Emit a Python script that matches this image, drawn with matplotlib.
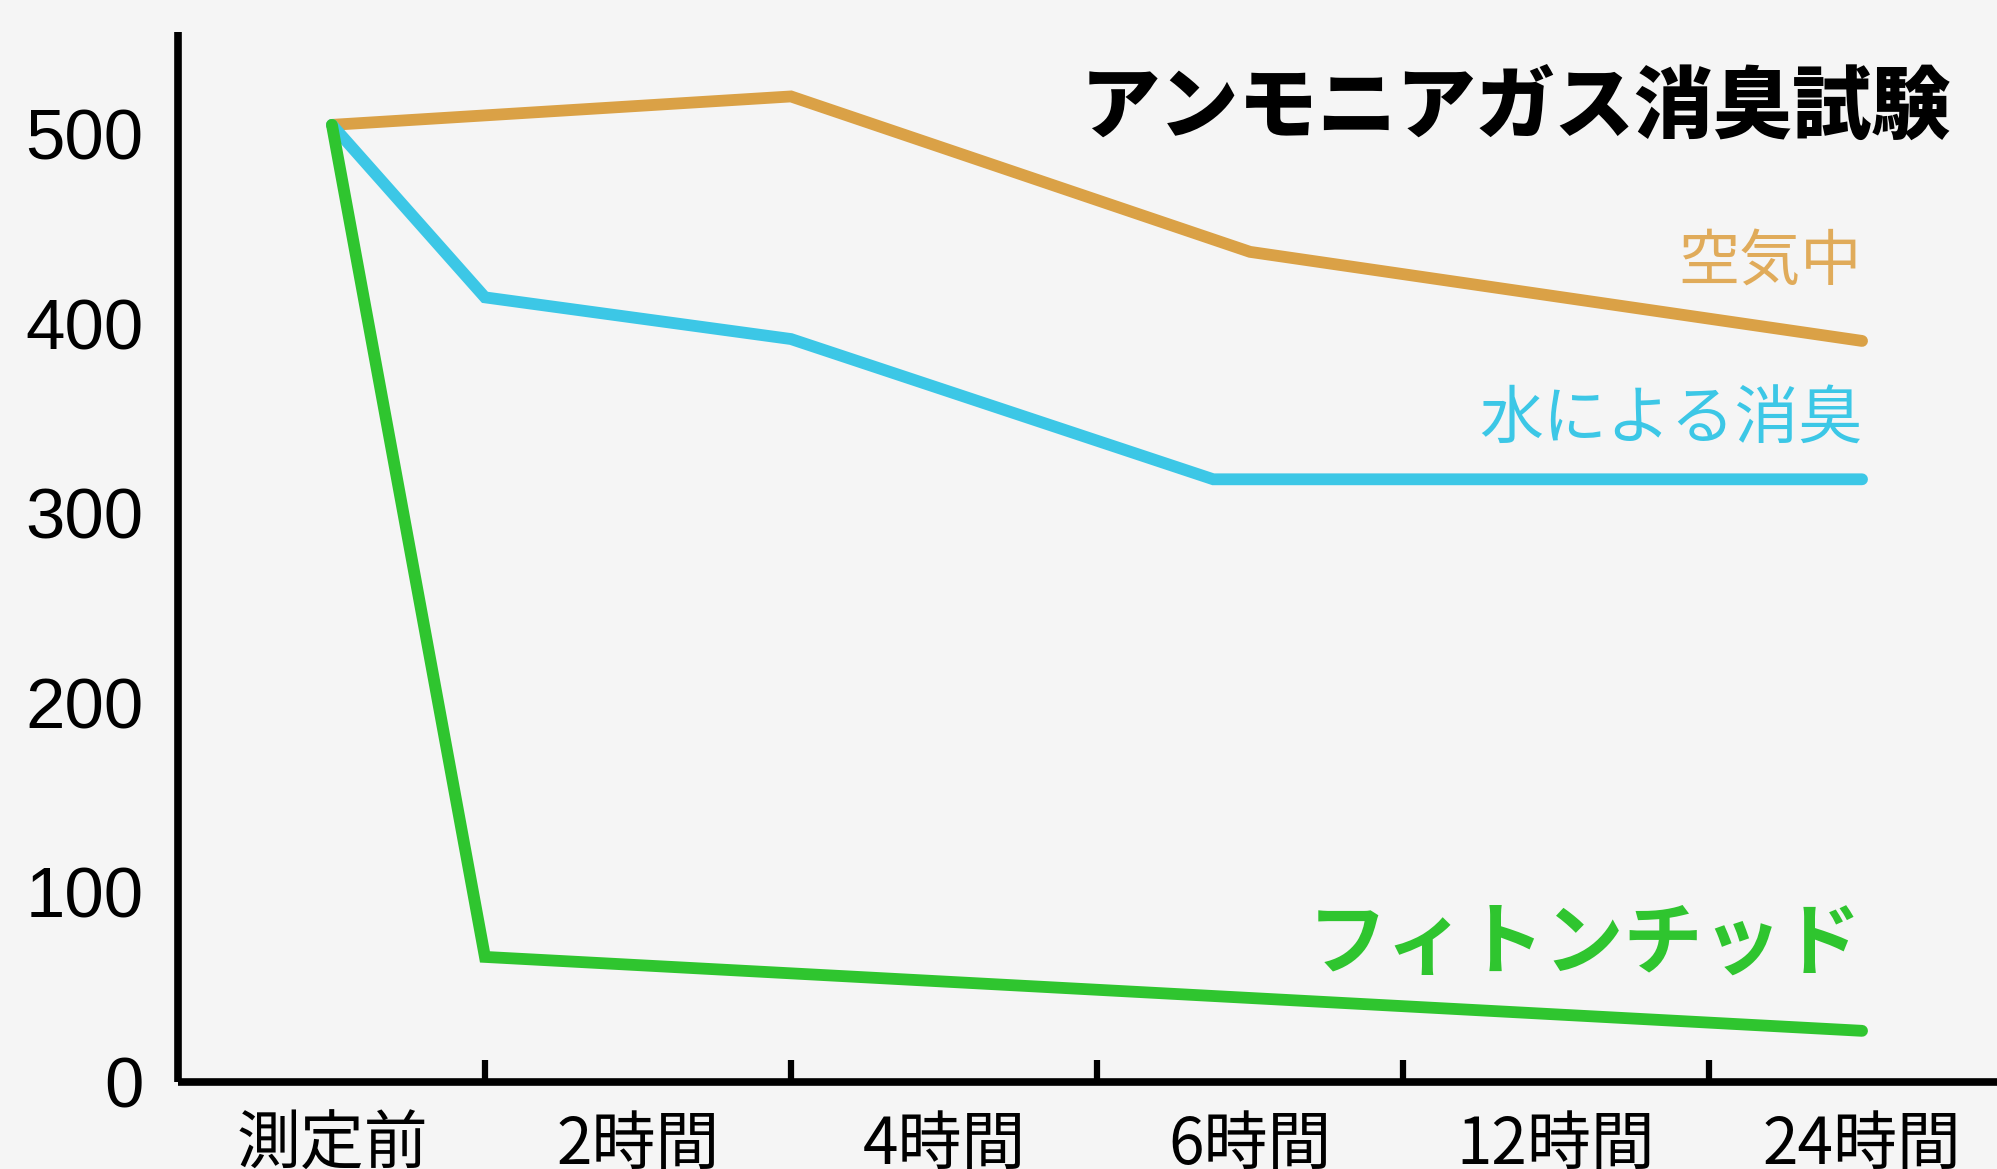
import matplotlib
matplotlib.use("Agg")
import matplotlib.pyplot as plt
from matplotlib.ticker import FixedLocator, FixedFormatter

plt.rcParams['font.family'] = ['Noto Sans CJK JP', 'DejaVu Sans']

# ---- data ----
categories = ["測定前", "2時間", "4時間", "6時間", "12時間", "24時間"]
title = "アンモニアガス消臭試験"

air_x = [0.0, 1.5, 3.0, 5.0]
air_y = [505, 520, 438, 391]

water_x = [0.0, 0.5, 1.5, 2.88, 5.0]
water_y = [505, 414, 392, 318, 318]

phyto_x = [0.0, 0.5, 5.0]
phyto_y = [505, 66, 27]

yticks = [0, 100, 200, 300, 400, 500]

series_labels = ["空気中", "水による消臭", "フィトンチッド"]

# ---- style ----
c_air = "#DAA146"
c_air_txt = "#E0AB5A"
c_water = "#3CC7E6"
c_phyto = "#2FC52F"
bg = "#f5f5f5"

W, H = 1997, 1169
fig = plt.figure(figsize=(W / 100, H / 100), dpi=100, facecolor=bg)
left_px, right_px, bottom_px, top_px = 178, 1997, 1082, 32
ax = fig.add_axes([left_px / W, 1 - bottom_px / H,
                   (right_px - left_px) / W, (bottom_px - top_px) / H])
ax.set_facecolor(bg)

lw = 8.5
ax.plot(air_x, air_y, color=c_air, lw=lw, solid_capstyle='round', solid_joinstyle='miter', zorder=3)
ax.plot(water_x, water_y, color=c_water, lw=lw, solid_capstyle='round', solid_joinstyle='miter', zorder=3)
ax.plot(phyto_x, phyto_y, color=c_phyto, lw=lw, solid_capstyle='round', solid_joinstyle='miter', zorder=4)

ax.set_xlim(-0.503, 5.441)
ax.set_ylim(0, 554)

for s in ['top', 'right']:
    ax.spines[s].set_visible(False)
for s in ['left', 'bottom']:
    ax.spines[s].set_linewidth(5.5)
    ax.spines[s].set_color('black')
    ax.spines[s].set_capstyle('butt')

# x axis: labels at categories, tick marks between them
ax.xaxis.set_major_locator(FixedLocator(range(len(categories))))
ax.xaxis.set_major_formatter(FixedFormatter(categories))
ax.xaxis.set_minor_locator(FixedLocator([i + 0.5 for i in range(len(categories) - 1)]))
ax.tick_params(axis='x', which='major', length=0, pad=22, labelsize=46, labelcolor='black')
ax.tick_params(axis='x', which='minor', length=16, width=4.5, direction='in', color='black')

ax.set_yticks(yticks)
ax.set_yticklabels([str(v) for v in yticks], family=['Liberation Sans', 'DejaVu Sans'])
ax.tick_params(axis='y', length=0, pad=25, labelsize=51, labelcolor='black')

# texts
ax.text(5.29, 514, title, ha='right', va='center', fontsize=57,
        fontweight='heavy', color='black')
ax.text(5.0, 432, series_labels[0], ha='right', va='center', fontsize=44, color=c_air_txt)
ax.text(5.0, 349, series_labels[1], ha='right', va='center', fontsize=46, color=c_water)
ax.text(5.0, 73, series_labels[2], ha='right', va='center', fontsize=57,
        fontweight='bold', color=c_phyto)

fig.savefig("out.png", dpi=100, facecolor=bg)
